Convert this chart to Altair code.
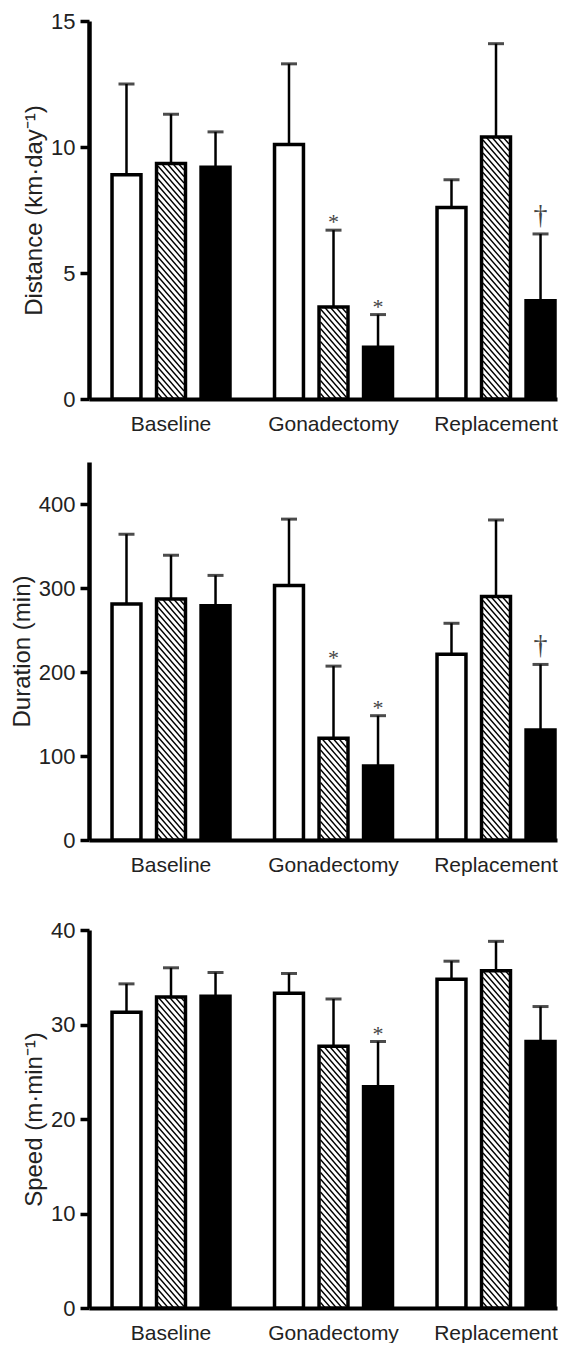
import altair as alt
import pandas as pd

phases = ["Baseline", "Gonadectomy", "Replacement"]
groups = ["Open", "Hatched", "Filled"]

distance_mean = [8.9, 9.35, 9.2, 10.1, 3.65, 2.05, 7.6, 10.4, 3.9]
distance_sd = [3.6, 1.95, 1.4, 3.2, 3.05, 1.3, 1.1, 3.7, 2.65]
distance_sig = ["", "", "", "", "*", "*", "", "", "†"]

duration_mean = [281, 287, 279, 303, 121, 88, 221, 290, 131]
duration_sd = [83, 52, 36, 79, 86, 60, 37, 91, 78]
duration_sig = ["", "", "", "", "*", "*", "", "", "†"]

speed_mean = [31.3, 32.9, 33.0, 33.3, 27.7, 23.4, 34.8, 35.7, 28.2]
speed_sd = [3.0, 3.1, 2.5, 2.1, 5.0, 4.8, 1.9, 3.1, 3.7]
speed_sig = ["", "", "", "", "", "*", "", "", ""]

W = 468
H = 378

TEXT_FONT = "Liberation Sans, Arial, sans-serif"


def panel(mean, sd, sig, ymax, yvalues, title):
    rows = []
    for i, p in enumerate(phases):
        for j, g in enumerate(groups):
            k = i * 3 + j
            rows.append(dict(phase=p, group=g, mean=mean[k],
                             upper=mean[k] + sd[k], sig=sig[k]))
    df = pd.DataFrame(rows)
    ppu = H / ymax
    df["mask_top"] = df["mean"] + 40 / ppu

    hatch = []
    step = 6.5 / ppu
    for r in rows:
        if r["group"] == "Hatched":
            lvl = -16 / ppu
            while lvl < r["mean"] + 16 / ppu:
                hatch.append(dict(phase=r["phase"], group=r["group"], level=lvl))
                lvl += step
    hdf = pd.DataFrame(hatch)

    xaxis = alt.Axis(title=None, labelAngle=0, ticks=False, labelFont=TEXT_FONT,
                     labelFontSize=21, labelColor="#222", labelPadding=14,
                     domainWidth=4, domainColor="black")
    yaxis = alt.Axis(title=title, values=yvalues, grid=False, labelFont=TEXT_FONT,
                     labelFontSize=22, labelColor="#222", labelPadding=5,
                     tickSize=9, tickWidth=3.5, tickColor="black",
                     domainWidth=4.5, domainColor="black",
                     titleFont=TEXT_FONT, titleFontSize=24, titleFontWeight="normal",
                     titleColor="#222", titlePadding=4)
    xs = alt.Scale(paddingInner=0.274, paddingOuter=0.077, align=0.92)
    xos = alt.Scale(paddingInner=0.35, paddingOuter=0)
    ys = alt.Scale(domain=[0, ymax], nice=False, zero=True)

    def X():
        return alt.X("phase:N", sort=phases, scale=xs, axis=xaxis)

    def XO():
        return alt.XOffset("group:N", sort=groups, scale=xos)

    def Y(f):
        return alt.Y(f, type="quantitative", scale=ys, axis=yaxis)

    base = alt.Chart(df)
    fill = base.mark_bar(strokeWidth=0).encode(
        x=X(), xOffset=XO(), y=Y("mean"),
        color=alt.Color("group:N", sort=groups, legend=None,
                        scale=alt.Scale(domain=groups, range=["white", "white", "black"])),
    )
    hatch_l = alt.Chart(hdf).mark_point(
        shape="M-1,-1.15L1,1.15", size=676, filled=False, stroke="black",
        strokeWidth=1.4, opacity=1, clip=True
    ).encode(x=X(), xOffset=XO(), y=Y("level"))
    mask = base.transform_filter(alt.datum.group == "Hatched").mark_bar(
        color="white", strokeWidth=0
    ).encode(x=X(), xOffset=XO(), y=Y("mean"), y2="mask_top:Q")
    outline = base.mark_bar(fillOpacity=0, stroke="black", strokeWidth=3.5).encode(
        x=X(), xOffset=XO(), y=Y("mean"))
    err = base.mark_rule(color="black", strokeWidth=2.5).encode(
        x=X(), xOffset=XO(), y=Y("mean"), y2="upper:Q")
    cap = base.mark_tick(color="black", orient="horizontal", size=16, thickness=3).encode(
        x=X(), xOffset=XO(), y=Y("upper"))
    star = base.transform_filter(alt.datum.sig == "*").mark_text(
        baseline="bottom", dy=4, fontSize=22, color="#444",
        font="Liberation Serif, serif").encode(
        x=X(), xOffset=XO(), y=Y("upper"), text="sig:N")
    dagger = base.transform_filter(alt.datum.sig == "†").mark_text(
        baseline="bottom", dy=-4, fontSize=28, color="#444",
        font="Liberation Serif, serif").encode(
        x=X(), xOffset=XO(), y=Y("upper"), text="sig:N")

    return alt.layer(fill, hatch_l, mask, outline, err, cap, star, dagger).properties(
        width=W, height=H)


top = panel(distance_mean, distance_sd, distance_sig, 15, [0, 5, 10, 15],
            "Distance (km·day⁻¹)")
mid = panel(duration_mean, duration_sd, duration_sig, 450, [0, 100, 200, 300, 400],
            "Duration (min)")
bot = panel(speed_mean, speed_sd, speed_sig, 40, [0, 10, 20, 30, 40],
            "Speed (m·min⁻¹)").properties(
    title=alt.TitleParams(text=" ", fontSize=10, offset=6))

chart = alt.vconcat(top, mid, bot, spacing=28).properties(
    padding={"left": 2, "top": 2, "right": 0, "bottom": 0}
).configure_view(stroke=None)

chart.save("out.html", embed_options={"renderer": "svg", "actions": False})
